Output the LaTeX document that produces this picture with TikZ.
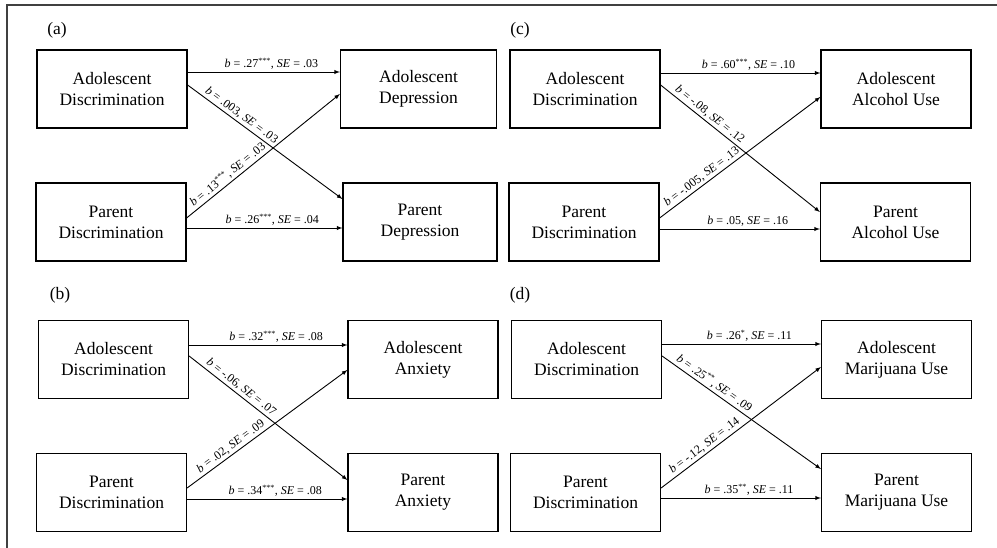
\documentclass[tikz,border=0pt]{standalone}
\usepackage{fontspec}
\setmainfont{Liberation Serif}
\usetikzlibrary{arrows}

\begin{document}
\begin{tikzpicture}[x=1pt,y=-1pt,
  var/.style={draw,line width=1.2pt,minimum width=150pt,minimum height=78pt,inner sep=0pt,align=center,font=\fontsize{17.5}{21}\selectfont},
  eff/.style={->,>=latex,line width=0.9pt},
  est/.style={font=\fontsize{12}{14}\selectfont,inner sep=2pt},
  tag/.style={font=\fontsize{17.5}{21}\selectfont}]

\useasboundingbox (0,0) rectangle (997,548);
\draw[line width=1.5pt,black!75] (7,548) -- (7,5) -- (997,5);

% (a) depression
\node[tag] (ta) at (57,30) {(a)};
\node[var] (aAD) at (112,89) {Adolescent\\Discrimination};
\node[var] (aPD) at (111,222) {Parent\\Discrimination};
\node[var,minimum width=156pt] (aAY) at (418.5,89) {Adolescent\\Depression};
\node[var,minimum width=154pt] (aPY) at (420,222) {Parent\\Depression};

\draw[eff] ([yshift=17pt]aAD.east) -- ([yshift=17pt]aAY.west) node[est,above,pos=0.55] {\textit{b} = .27\textsuperscript{***}, \textit{SE} = .03};
\draw[eff] ([yshift=4pt]aAD.east) -- ([yshift=23pt]aPY.west) node[est,above,sloped,pos=0.32] {\textit{b} = .003, \textit{SE} = .03};
\draw[eff] ([yshift=4pt]aPD.east) -- ([yshift=-5pt]aAY.west) node[est,above,sloped,pos=0.3] {\textit{b} = .13\textsuperscript{***}, \textit{SE} = .03};
\draw[eff] ([yshift=-6pt]aPD.east) -- ([yshift=-6pt]aPY.west) node[est,above,pos=0.55] {\textit{b} = .26\textsuperscript{***}, \textit{SE} = .04};

% (b) anxiety
\node[tag] (tb) at (60,295) {(b)};
\node[var] (bAD) at (113.5,359.5) {Adolescent\\Discrimination};
\node[var] (bPD) at (111.5,492.5) {Parent\\Discrimination};
\node[var] (bAY) at (423,359.5) {Adolescent\\Anxiety};
\node[var] (bPY) at (423,492.5) {Parent\\Anxiety};

\draw[eff] ([yshift=14.5pt]bAD.east) -- ([yshift=14.5pt]bAY.west) node[est,above,pos=0.55] {\textit{b} = .32\textsuperscript{***}, \textit{SE} = .08};
\draw[eff] ([yshift=3.5pt]bAD.east) -- ([yshift=12.5pt]bPY.west) node[est,above,sloped,pos=0.3] {\textit{b} = -.06, \textit{SE} = .07};
\draw[eff] ([yshift=4.5pt]bPD.east) -- ([yshift=-10.5pt]bAY.west) node[est,above,sloped,pos=0.3] {\textit{b} = .02, \textit{SE} = .09};
\draw[eff] ([yshift=-6.5pt]bPD.east) -- ([yshift=-6.5pt]bPY.west) node[est,above,pos=0.55] {\textit{b} = .34\textsuperscript{***}, \textit{SE} = .08};

% (c) alcohol use
\node[tag] (tc) at (520,30) {(c)};
\node[var] (cAD) at (585,89) {Adolescent\\Discrimination};
\node[var] (cPD) at (584,222) {Parent\\Discrimination};
\node[var] (cAY) at (896,89) {Adolescent\\Alcohol Use};
\node[var] (cPY) at (895.5,222) {Parent\\Alcohol Use};

\draw[eff] ([yshift=16pt]cAD.east) -- ([yshift=16pt]cAY.west) node[est,above,pos=0.55] {\textit{b} = .60\textsuperscript{***}, \textit{SE} = .10};
\draw[eff] ([yshift=4pt]cAD.east) -- ([yshift=10pt]cPY.west) node[est,above,sloped,pos=0.28] {\textit{b} = -.08, \textit{SE} = .12};
\draw[eff] ([yshift=4pt]cPD.east) -- ([yshift=-8pt]cAY.west) node[est,above,sloped,pos=0.29] {\textit{b} = -.005, \textit{SE} = .13};
\draw[eff] ([yshift=-7pt]cPD.east) -- ([yshift=-7pt]cPY.west) node[est,above,pos=0.55] {\textit{b} = .05, \textit{SE} = .16};

% (d) marijuana use
\node[tag] (td) at (520,295) {(d)};
\node[var] (dAD) at (586.5,359.5) {Adolescent\\Discrimination};
\node[var] (dPD) at (585.5,492.5) {Parent\\Discrimination};
\node[var] (dAY) at (896.5,359.5) {Adolescent\\Marijuana Use};
\node[var] (dPY) at (896.5,492.5) {Parent\\Marijuana Use};

\draw[eff] ([yshift=15.5pt]dAD.east) -- ([yshift=15.5pt]dAY.west) node[est,above,pos=0.55] {\textit{b} = .26\textsuperscript{*}, \textit{SE} = .11};
\draw[eff] ([yshift=3.5pt]dAD.east) -- ([yshift=23.5pt]dPY.west) node[est,above,sloped,pos=0.3] {\textit{b} = .25\textsuperscript{**}, \textit{SE} = .09};
\draw[eff] ([yshift=4.5pt]dPD.east) -- ([yshift=-7.5pt]dAY.west) node[est,above,sloped,pos=0.3] {\textit{b} = -.12, \textit{SE} = .14};
\draw[eff] ([yshift=-5.5pt]dPD.east) -- ([yshift=-5.5pt]dPY.west) node[est,above,pos=0.55] {\textit{b} = .35\textsuperscript{**}, \textit{SE} = .11};

\end{tikzpicture}
\end{document}
